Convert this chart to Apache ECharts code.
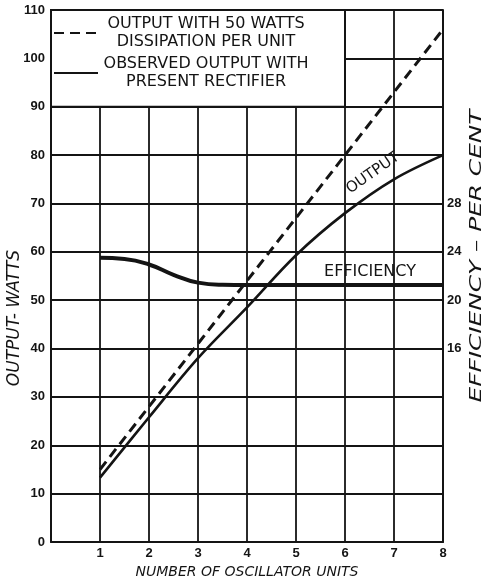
<!DOCTYPE html>
<html>
<head>
<meta charset="utf-8">
<script src="https://cdn.jsdelivr.net/npm/echarts@6/dist/echarts.min.js"></script>
<style>
  html, body { margin: 0; padding: 0; background: #fff; }
  #chart { width: 485px; height: 576px; }
</style>
</head>
<body>
<div id="chart"></div>
<script>
// number of oscillator units
const units = [1, 2, 3, 4, 5, 6, 7, 8];
// output with 50 watts dissipation per unit (dashed)
const ratedOutput = [15, 28, 41, 54, 67, 80, 93, 106];
// observed output with present rectifier (solid)
const observedOutput = [13.3, 25.8, 38, 48.5, 59.3, 68, 75, 80];
// efficiency, per cent (right axis)
const effUnits = [1, 1.5, 2, 2.5, 3, 3.5, 4, 8];
const efficiency = [23.5, 23.4, 22.95, 22.1, 21.45, 21.27, 21.25, 21.25];
// right axis labels that are printed
const effTicks = [16, 20, 24, 28];

const nameRated = 'rated';
const nameObserved = 'observed';
const legendText = {
  rated: ['OUTPUT WITH 50 WATTS', 'DISSIPATION PER UNIT'],
  observed: ['OBSERVED OUTPUT WITH', 'PRESENT RECTIFIER']
};

const ink = '#141414';
const font = 'DejaVu Sans';

const pairs = (xs, ys) => xs.map((x, i) => [x, ys[i]]);

var myChart = echarts.init(document.getElementById('chart'));
myChart.setOption({
  animation: false,
  backgroundColor: '#fff',
  grid: { left: 51, right: 42, top: 10, bottom: 34, outerBoundsMode: 'none', containLabel: false },
  legend: {
    data: [nameRated, nameObserved],
    orient: 'vertical',
    left: 53,
    top: 16,
    padding: 0,
    itemWidth: 44,
    itemHeight: 14,
    itemGap: 6,
    selectedMode: false,
    itemStyle: { opacity: 0 },
    formatter: name => legendText[name].map(l => '{c|' + l + '}').join('\n'),
    textStyle: {
      color: ink,
      fontFamily: font,
      fontSize: 16,
      rich: { c: { width: 206, align: 'center', fontSize: 16, lineHeight: 18, fontFamily: font, color: ink } }
    }
  },
  xAxis: {
    type: 'value',
    min: 0, max: 8, interval: 1,
    name: 'NUMBER OF OSCILLATOR UNITS',
    nameLocation: 'middle',
    nameGap: 20,
    nameTextStyle: { fontFamily: font, fontSize: 14, fontStyle: 'italic', color: ink },
    axisLine: { lineStyle: { color: ink, width: 2 } },
    axisTick: { show: false },
    axisLabel: {
      margin: 5, color: ink, fontFamily: 'Liberation Sans', fontWeight: 'bold', fontSize: 13,
      formatter: v => (v === 0 ? '' : v)
    },
    splitLine: { show: true, lineStyle: { color: ink, width: 1.8 } }
  },
  yAxis: [
    {
      type: 'value',
      min: 0, max: 110, interval: 10,
      axisLine: { show: true, lineStyle: { color: ink, width: 2 } },
      axisTick: { show: false },
      axisLabel: { margin: 6, color: ink, fontFamily: 'Liberation Sans', fontWeight: 'bold', fontSize: 13 },
      splitLine: { show: true, lineStyle: { color: ink, width: 1.8 } }
    },
    {
      type: 'value',
      position: 'right',
      min: 0, max: 44, interval: 4,
      axisLine: { show: true, lineStyle: { color: ink, width: 2 } },
      axisTick: { show: false },
      axisLabel: {
        margin: 4, color: ink, fontFamily: 'Liberation Sans', fontWeight: 'bold', fontSize: 13,
        formatter: v => (effTicks.indexOf(v) >= 0 ? v : '')
      },
      splitLine: { show: false }
    }
  ],
  graphic: [
    {
      type: 'text', x: 15, y: 318, rotation: Math.PI / 2,
      style: { text: 'OUTPUT- WATTS', fontFamily: font, fontSize: 17, fontStyle: 'italic', fill: ink, align: 'center', verticalAlign: 'middle' }
    },
    {
      type: 'text', x: 477, y: 256, rotation: Math.PI / 2, scaleX: 1.65,
      style: { text: 'EFFICIENCY – PER CENT', fontFamily: font, fontSize: 15, fontStyle: 'italic', fill: ink, align: 'center', verticalAlign: 'middle' }
    },
    {
      type: 'text', x: 373, y: 173, rotation: 0.61,
      style: { text: 'OUTPUT', fontFamily: font, fontSize: 15, fill: ink, align: 'center', verticalAlign: 'middle' }
    },
    {
      type: 'text', x: 370, y: 272,
      style: { text: 'EFFICIENCY', fontFamily: font, fontSize: 16, fill: ink, align: 'center', verticalAlign: 'middle' }
    }
  ],
  series: [
    {
      name: nameRated,
      type: 'line',
      symbol: 'none',
      data: pairs(units, ratedOutput),
      lineStyle: { color: ink, width: 3, type: [10, 6] },
      itemStyle: { color: ink }
    },
    {
      name: nameObserved,
      type: 'line',
      symbol: 'none',
      smooth: 0.35,
      data: pairs(units, observedOutput),
      lineStyle: { color: ink, width: 2.6 },
      itemStyle: { color: ink },
      markArea: {
        silent: true,
        itemStyle: { color: '#fff', borderColor: ink, borderWidth: 2 },
        data: [[{ xAxis: 0, yAxis: 90 }, { xAxis: 6, yAxis: 110 }]]
      }
    },
    {
      name: 'efficiency',
      type: 'line',
      yAxisIndex: 1,
      symbol: 'none',
      smooth: 0.5,
      data: pairs(effUnits, efficiency),
      lineStyle: { color: ink, width: 4 },
      itemStyle: { color: ink }
    }
  ]
});
</script>
</body>
</html>
